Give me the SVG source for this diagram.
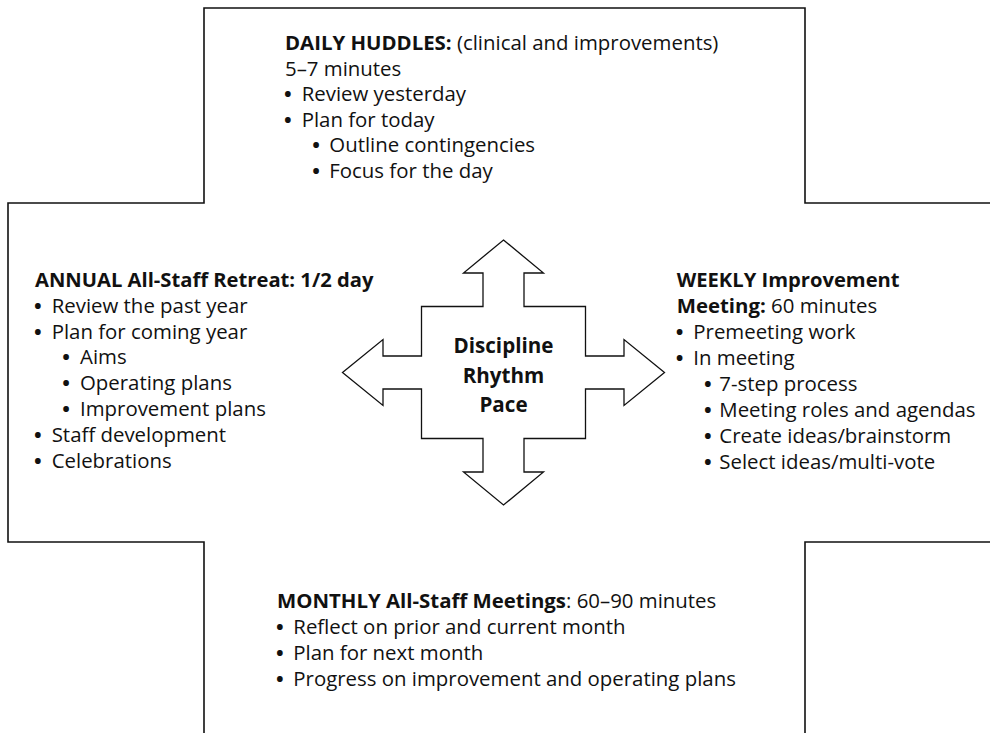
<svg xmlns="http://www.w3.org/2000/svg" width="990" height="733" viewBox="0 0 990 733">
  <style>
    .outline { fill: none; stroke: #111; stroke-width: 1.6; }
    .arrow { fill: #fff; stroke: #111; stroke-width: 1.3; stroke-linejoin: miter; }
    text { font-family: "Open Sans", "Noto Sans", "DejaVu Sans", sans-serif; font-size: 20.4px; fill: #111; }
    .b { font-weight: bold; }
    .dot { font-weight: bold; }
    .center { font-weight: bold; font-size: 20.6px; text-anchor: middle; }
  </style>
  <rect width="990" height="733" fill="#fff"/>

  <!-- Cross-shaped frame -->
  <g id="frame">
    <path class="outline" d="M204,733 V542 H8 V203 H204 V8 H805 V203 H990"/>
    <path class="outline" d="M990,542 H805 V733"/>
  </g>

  <!-- Four-way arrow with the core themes -->
  <g id="core">
    <path class="arrow" d="M503.5,240 L543.5,273 H524 V306.5 H585.5 V356 H624 V339.5 L664.5,372.5 L624,405.5 V389 H585.5 V438.5 H524 V472 H543.5 L503.5,505 L463.5,472 H483 V438.5 H421.5 V389 H383 V405.5 L342.5,372.5 L383,339.5 V356 H421.5 V306.5 H483 V273 H463.5 Z"/>
    <text class="center" x="503.5" y="353">Discipline</text>
    <text class="center" x="503.5" y="382.5">Rhythm</text>
    <text class="center" x="503.5" y="412">Pace</text>
  </g>

  <!-- Daily huddles -->
  <g id="daily">
    <text x="285" y="50"><tspan class="b">DAILY HUDDLES:</tspan> (clinical and improvements)</text>
    <text x="285" y="75.5">5–7 minutes</text>
    <text y="101"><tspan class="dot" x="284">•</tspan><tspan x="301.7">Review yesterday</tspan></text>
    <text y="126.5"><tspan class="dot" x="284">•</tspan><tspan x="301.7">Plan for today</tspan></text>
    <text y="152"><tspan class="dot" x="312.3">•</tspan><tspan x="329.3">Outline contingencies</tspan></text>
    <text y="177.5"><tspan class="dot" x="312.3">•</tspan><tspan x="329.3">Focus for the day</tspan></text>
  </g>

  <!-- Annual retreat -->
  <g id="annual">
    <text class="b" x="35" y="286.7" style="font-size:20.2px">ANNUAL All-Staff Retreat: 1/2 day</text>
    <text y="312.6"><tspan class="dot" x="34">•</tspan><tspan x="51.7">Review the past year</tspan></text>
    <text y="338.5"><tspan class="dot" x="34">•</tspan><tspan x="51.7">Plan for coming year</tspan></text>
    <text y="364.4"><tspan class="dot" x="62.3">•</tspan><tspan x="80">Aims</tspan></text>
    <text y="390.3"><tspan class="dot" x="62.3">•</tspan><tspan x="80">Operating plans</tspan></text>
    <text y="416.2"><tspan class="dot" x="62.3">•</tspan><tspan x="80">Improvement plans</tspan></text>
    <text y="442.1"><tspan class="dot" x="34">•</tspan><tspan x="51.7">Staff development</tspan></text>
    <text y="468"><tspan class="dot" x="34">•</tspan><tspan x="51.7">Celebrations</tspan></text>
  </g>

  <!-- Weekly improvement meeting -->
  <g id="weekly">
    <text class="b" x="676.7" y="287.3" style="font-size:20.2px">WEEKLY Improvement</text>
    <text x="676.7" y="313.2"><tspan class="b">Meeting:</tspan> 60 minutes</text>
    <text y="339.1"><tspan class="dot" x="675.7">•</tspan><tspan x="693.3">Premeeting work</tspan></text>
    <text y="365"><tspan class="dot" x="675.7">•</tspan><tspan x="693.3">In meeting</tspan></text>
    <text y="390.9"><tspan class="dot" x="704">•</tspan><tspan x="719.3">7-step process</tspan></text>
    <text y="416.8"><tspan class="dot" x="704">•</tspan><tspan x="719.3">Meeting roles and agendas</tspan></text>
    <text y="442.7"><tspan class="dot" x="704">•</tspan><tspan x="719.3">Create ideas/brainstorm</tspan></text>
    <text y="468.6"><tspan class="dot" x="704">•</tspan><tspan x="719.3">Select ideas/multi-vote</tspan></text>
  </g>

  <!-- Monthly all-staff meetings -->
  <g id="monthly">
    <text x="277" y="608.3"><tspan class="b">MONTHLY All-Staff Meetings</tspan>: 60–90 minutes</text>
    <text y="634.3"><tspan class="dot" x="276">•</tspan><tspan x="293.3">Reflect on prior and current month</tspan></text>
    <text y="660.3"><tspan class="dot" x="276">•</tspan><tspan x="293.3">Plan for next month</tspan></text>
    <text y="686.3"><tspan class="dot" x="276">•</tspan><tspan x="293.3">Progress on improvement and operating plans</tspan></text>
  </g>
</svg>
